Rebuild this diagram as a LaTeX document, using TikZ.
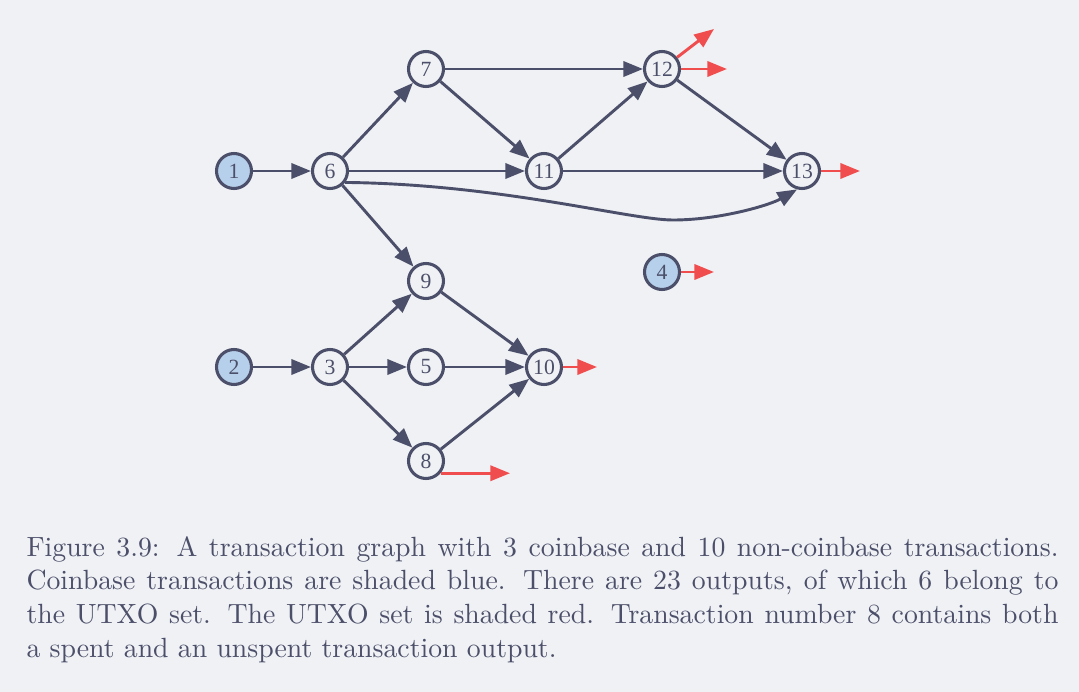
\documentclass[tikz,border=0pt]{standalone}
\usepackage{fontspec}
\newfontfamily\nodefont{Liberation Serif}
\usetikzlibrary{arrows.meta}
\definecolor{bgc}{HTML}{EFF1F5}
\definecolor{ink}{HTML}{4C4F69}
\definecolor{utxo}{HTML}{F04E4E}
\definecolor{coin}{HTML}{B6CFEA}
\begin{document}
\begin{tikzpicture}[x=0.36pt,y=-0.36pt,
  tx/.style={circle,draw=ink,line width=1.1pt,fill=bgc,minimum size=12.6pt,inner sep=0pt,text=ink,font=\nodefont\fontsize{7.8}{8.5}\selectfont},
  cb/.style={tx,fill=coin},
  spentedge/.style={draw=ink,line width=1.05pt,-{Triangle[length=7.1pt,width=5.5pt]}},
  utxoedge/.style={draw=utxo,line width=1.05pt,-{Triangle[length=7.1pt,width=5.5pt]}}]
\path[fill=bgc,use as bounding box] (0,0) rectangle (1079,692);
% nodes
\node[cb] (n1) at (234,171) {1};
\node[tx] (n6) at (330,171) {6};
\node[tx] (n7) at (426,69) {7};
\node[tx] (n11) at (544,171) {11};
\node[tx] (n12) at (662,69) {12};
\node[tx] (n13) at (802,171) {13};
\node[tx] (n9) at (426,281) {9};
\node[cb] (n4) at (662,272) {4};
\node[cb] (n2) at (234,367) {2};
\node[tx] (n3) at (330,367) {3};
\node[tx] (n5) at (426,367) {5};
\node[tx] (n10) at (544,367) {10};
\node[tx] (n8) at (426,461) {8};
% free ends
\coordinate (o12a) at (714,29);
\coordinate (o12b) at (727,69);
\coordinate (o13) at (860,171);
\coordinate (o4) at (714,272);
\coordinate (o10) at (597,367);
\coordinate (o8) at (510,473);
% spent edges
\draw[spentedge] (n1) -- (n6);
\draw[spentedge] (n6) -- (n7);
\draw[spentedge] (n6) -- (n11);
\draw[spentedge] (n6) -- (n9);
\draw[spentedge] (n6.-37) .. controls (500,184) and (630,220) .. (673,220) .. controls (720,220) and (770,205) .. (n13.-105);
\draw[spentedge] (n7) -- (n12);
\draw[spentedge] (n7) -- (n11);
\draw[spentedge] (n11) -- (n12);
\draw[spentedge] (n11) -- (n13);
\draw[spentedge] (n12) -- (n13);
\draw[spentedge] (n2) -- (n3);
\draw[spentedge] (n3) -- (n9);
\draw[spentedge] (n3) -- (n5);
\draw[spentedge] (n3) -- (n8);
\draw[spentedge] (n9) -- (n10);
\draw[spentedge] (n5) -- (n10);
\draw[spentedge] (n8) -- (n10);
% unspent outputs
\draw[utxoedge] (n12) -- (o12a);
\draw[utxoedge] (n12) -- (o12b);
\draw[utxoedge] (n13) -- (o13);
\draw[utxoedge] (n4) -- (o4);
\draw[utxoedge] (n10) -- (o10);
\draw[utxoedge] (n8.-40) -- (n8.-40 -| o8);
% caption
\node[anchor=base west,inner sep=0pt,text width=371.5pt,align=justify,text=ink,font=\fontsize{10}{12.2}\selectfont] (cap) at (26,556)
{Figure 3.9: A transaction graph with 3 coinbase and 10 non-coinbase transactions.\linebreak Coinbase transactions are shaded blue. There are 23 outputs, of which 6 belong to\linebreak the UTXO set. The UTXO set is shaded red. Transaction number 8 contains both\linebreak a spent and an unspent transaction output.};
\end{tikzpicture}
\end{document}
